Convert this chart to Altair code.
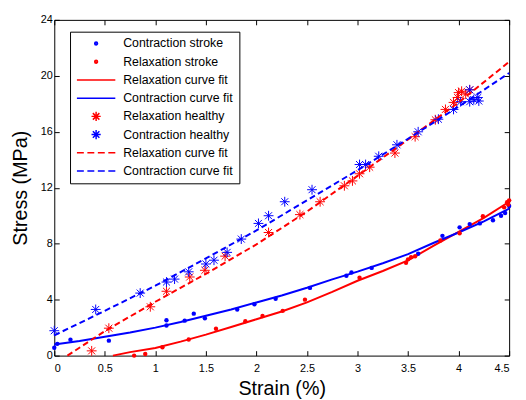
import altair as alt
import pandas as pd

FONT = "Liberation Sans"
RED = "#ff0000"
BLUE = "#0000ff"

# ---------------- data ----------------
# Contraction stroke (blue dots)
cs_x = [0.0, 0.03, 0.16, 0.54, 1.11, 1.11, 1.29, 1.38, 1.49, 1.81, 1.98, 2.19, 2.53, 2.89, 2.94,
        3.14, 3.60, 3.84, 4.01, 4.11, 4.21, 4.34, 4.42, 4.46, 4.50]
cs_y = [0.56, 0.84, 1.14, 1.07, 2.15, 2.53, 2.50, 3.00, 2.67, 3.30, 3.67, 4.07, 4.84, 5.71, 5.94,
        6.27, 7.28, 8.56, 9.17, 9.40, 9.45, 9.68, 10.0, 10.2, 10.7]

# Relaxation stroke (red dots)
rs_x = [0.79, 0.90, 1.07, 1.33, 1.60, 1.89, 2.06, 2.26, 2.48, 3.02, 3.48, 3.50, 3.53, 3.57,
        3.82, 4.01, 4.24, 4.45, 4.48, 4.50, 4.49]
rs_y = [0.0, 0.12, 0.60, 1.15, 1.92, 2.46, 2.83, 3.20, 4.00, 5.57, 6.64, 6.88, 7.04, 7.10,
        8.23, 8.75, 9.96, 10.6, 10.97, 11.1, 10.8]

# Relaxation healthy (red asterisks)
rh_x = [0.37, 0.54, 0.95, 1.11, 1.34, 1.49, 1.69, 2.12, 2.43, 2.63, 2.87, 2.95, 3.02, 3.12,
        3.37, 3.57, 3.77, 3.87, 3.95, 3.99, 4.03, 4.07, 4.11, 4.00]
rh_y = [0.34, 1.96, 3.49, 4.60, 5.62, 6.10, 7.11, 8.80, 10.08, 11.0, 12.14, 12.49, 13.0, 13.47,
        14.48, 15.65, 16.86, 17.6, 18.1, 18.45, 18.9, 18.7, 19.0, 18.8]

# Contraction healthy (blue asterisks)
ch_x = [0.0, 0.41, 0.85, 1.11, 1.19, 1.33, 1.50, 1.58, 1.71, 1.85, 2.02, 2.12, 2.28, 2.55,
        3.02, 3.08, 3.21, 3.39, 3.60, 3.80, 3.95, 4.02, 4.11, 4.11, 4.15, 4.19, 4.20]
ch_y = [1.78, 3.30, 4.47, 5.26, 5.47, 5.99, 6.55, 6.82, 7.38, 8.33, 9.45, 10.0, 11.0, 11.86,
        13.66, 13.66, 14.25, 15.07, 16.0, 16.9, 17.6, 18.15, 19.0, 18.15, 18.3, 18.45, 18.2]

# Relaxation curve fit (stroke, solid red)
rf_x = [0.58, 0.75, 1.0, 1.25, 1.5, 1.75, 2.0, 2.25, 2.5, 2.75, 3.0, 3.25, 3.5, 3.75, 4.0, 4.25, 4.5]
rf_y = [0.0, 0.25, 0.55, 1.0, 1.5, 2.05, 2.6, 3.15, 3.8, 4.55, 5.35, 6.05, 6.8, 7.85, 8.85, 9.85, 11.0]

# Contraction curve fit (stroke, solid blue)
cf_x = [0.0, 0.25, 0.5, 0.75, 1.0, 1.25, 1.5, 1.75, 2.0, 2.25, 2.5, 2.75, 3.0, 3.25, 3.5, 3.75,
        4.0, 4.25, 4.5]
cf_y = [0.8, 1.05, 1.35, 1.65, 2.0, 2.4, 2.85, 3.3, 3.8, 4.3, 4.85, 5.45, 6.0, 6.6, 7.25, 8.05,
        8.8, 9.6, 10.5]

# Relaxation curve fit (healthy, dashed red)
rd_x = [0.13, 0.5, 1.0, 1.5, 2.0, 2.5, 3.0, 3.5, 4.0, 4.5]
rd_y = [0.0, 1.75, 3.85, 5.85, 7.95, 10.3, 12.85, 15.45, 18.1, 21.0]

# Contraction curve fit (healthy, dashed blue)
bd_x = [0.0, 0.5, 1.0, 1.5, 2.0, 2.5, 3.0, 3.5, 4.0, 4.5]
bd_y = [1.45, 3.2, 5.0, 6.95, 8.95, 11.1, 13.25, 15.5, 17.8, 20.2]

x_ticks = [0, 0.5, 1, 1.5, 2, 2.5, 3, 3.5, 4, 4.5]
y_ticks = [0, 4, 8, 12, 16, 20, 24]

legend_labels = ["Contraction stroke", "Relaxation stroke", "Relaxation curve fit",
                 "Contraction curve fit", "Relaxation healthy", "Contraction healthy",
                 "Relaxation curve fit ", "Contraction curve fit "]
legend_colors = [BLUE, RED, RED, BLUE, RED, BLUE, RED, BLUE]

# ---------------- symbol shapes ----------------
STAR = "M0,-1L0,1M-1,0L1,0M-0.71,-0.71L0.71,0.71M-0.71,0.71L0.71,-0.71"
LG_DOT = ("M-0.075,0A0.075,0.075,0,1,1,0.075,0A0.075,0.075,0,1,1,-0.075,0Z"
          "M-0.025,0A0.025,0.025,0,1,1,0.025,0A0.025,0.025,0,1,1,-0.025,0Z")
LG_LINE = "M-1,0L1,0"
LG_STAR = "M0,-0.24L0,0.24M-0.24,0L0.24,0M-0.17,-0.17L0.17,0.17M-0.17,0.17L0.17,-0.17"
LG_DASH = "M-1,0L-0.64,0M-0.455,0L-0.095,0M0.09,0L0.45,0M0.635,0L1,0"
legend_shapes = [LG_DOT, LG_DOT, LG_LINE, LG_LINE, LG_STAR, LG_STAR, LG_DASH, LG_DASH]


def df(x, y):
    return pd.DataFrame({"x": x, "y": y})


xscale = alt.Scale(domain=[0, 4.5], nice=False, zero=False)
yscale = alt.Scale(domain=[0, 24], nice=False, zero=False)

x_axis = alt.Axis(orient="bottom", values=x_ticks, format="~g", tickSize=5, offset=-5,
                  domain=False, grid=False, labelPadding=7, labelFont=FONT, labelFontSize=11,
                  labelColor="black", tickColor="black", tickWidth=1, title="Strain (%)",
                  titleFont=FONT, titleFontSize=20, titleFontWeight="normal", titleColor="black",
                  titlePadding=5)
y_axis = alt.Axis(orient="left", values=y_ticks, format="~g", tickSize=5, offset=-5,
                  domain=False, grid=False, labelPadding=2, labelFont=FONT, labelFontSize=11,
                  labelColor="black", tickColor="black", tickWidth=1, title="Stress (MPa)",
                  titleFont=FONT, titleFontSize=20, titleFontWeight="normal", titleColor="black",
                  titlePadding=10)


def enc(chart):
    return chart.encode(
        x=alt.X("x:Q", scale=xscale, axis=x_axis),
        y=alt.Y("y:Q", scale=yscale, axis=y_axis),
    )


solid_r = enc(alt.Chart(df(rf_x, rf_y)).mark_line(color=RED, strokeWidth=2))
solid_b = enc(alt.Chart(df(cf_x, cf_y)).mark_line(color=BLUE, strokeWidth=2))
dash_r = enc(alt.Chart(df(rd_x, rd_y)).mark_line(color=RED, strokeWidth=2, strokeDash=[6, 3.5]))
dash_b = enc(alt.Chart(df(bd_x, bd_y)).mark_line(color=BLUE, strokeWidth=2, strokeDash=[6, 3.5]))
dots_b = enc(alt.Chart(df(cs_x, cs_y)).mark_circle(color=BLUE, size=20, opacity=1))
dots_r = enc(alt.Chart(df(rs_x, rs_y)).mark_circle(color=RED, size=20, opacity=1))
stars_r = enc(alt.Chart(df(rh_x, rh_y)).mark_point(shape=STAR, size=100, filled=False,
                                                    color=RED, strokeWidth=1, opacity=1))
stars_b = enc(alt.Chart(df(ch_x, ch_y)).mark_point(shape=STAR, size=100, filled=False,
                                                    color=BLUE, strokeWidth=1, opacity=1))

legend = alt.Legend(title=None, orient="none", legendX=16, legendY=12, direction="vertical",
                    symbolSize=1521, symbolStrokeWidth=1.5, symbolOpacity=1,
                    symbolOffset=0, labelOffset=7, labelFont=FONT, labelFontSize=12.5,
                    labelColor="black", clipHeight=12, rowPadding=5.5, padding=6,
                    strokeColor="black", fillColor="white", labelLimit=300)

legend_layer = alt.Chart(pd.DataFrame({"label": legend_labels})).mark_point(
    filled=False, opacity=0, strokeWidth=1.5
).encode(
    color=alt.Color("label:N", scale=alt.Scale(domain=legend_labels, range=legend_colors),
                    legend=legend),
    shape=alt.Shape("label:N", scale=alt.Scale(domain=legend_labels, range=legend_shapes),
                    legend=legend),
)

inner = alt.layer(solid_r, solid_b, dots_b, dots_r, stars_r, stars_b, dash_r, dash_b, legend_layer)

top_right = alt.Chart(df([0], [0])).mark_point(opacity=0).encode(
    x=alt.X("x:Q", scale=xscale,
            axis=alt.Axis(orient="top", values=x_ticks, tickSize=5, offset=-5, domain=False,
                          grid=False, labels=False, title=None, tickColor="black", tickWidth=1)),
    y=alt.Y("y:Q", scale=yscale,
            axis=alt.Axis(orient="right", values=y_ticks, tickSize=5, offset=-5, domain=False,
                          grid=False, labels=False, title=None, tickColor="black", tickWidth=1)),
)

chart = alt.layer(inner, top_right).resolve_axis(x="independent", y="independent").properties(
    width=462, height=341,
    padding={"left": 47, "top": 9, "right": 9, "bottom": 41},
    autosize=alt.AutoSizeParams(type="none"),
    background="white",
).configure_view(stroke="black", strokeWidth=1)

chart.save("out.html", embed_options={"renderer": "svg", "actions": False})
